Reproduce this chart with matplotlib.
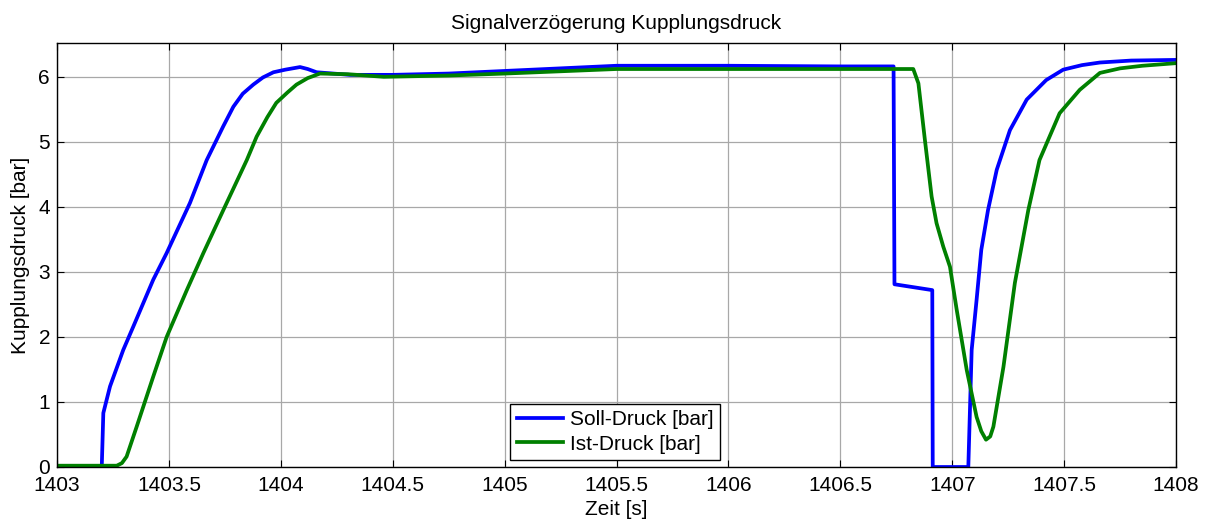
import matplotlib
matplotlib.use("Agg")
import matplotlib.pyplot as plt
import numpy as np

plt.rcParams['font.family'] = ['Liberation Sans', 'DejaVu Sans']

title = "Signalverzögerung Kupplungsdruck"
xlabel = "Zeit [s]"
ylabel = "Kupplungsdruck [bar]"
soll_label = "Soll-Druck [bar]"
ist_label = "Ist-Druck [bar]"

soll_t = [1403.0, 1403.20, 1403.207, 1403.237, 1403.296, 1403.341, 1403.43, 1403.49, 1403.594,
          1403.669, 1403.743, 1403.788, 1403.83, 1403.877, 1403.92, 1403.967, 1404.02, 1404.086,
          1404.12, 1404.16, 1404.31, 1404.5, 1404.75, 1405.0, 1405.25, 1405.5, 1406.0, 1406.5,
          1406.738, 1406.742, 1406.911, 1406.913, 1407.072,
          1407.087, 1407.109, 1407.13, 1407.16, 1407.199, 1407.258, 1407.333, 1407.42, 1407.496,
          1407.58, 1407.66, 1407.8, 1408.0]
soll_p = [0.0, 0.0, 0.83, 1.24, 1.8, 2.16, 2.88, 3.29, 4.06,
          4.72, 5.24, 5.54, 5.74, 5.88, 5.99, 6.07, 6.11, 6.15,
          6.12, 6.07, 6.03, 6.03, 6.05, 6.09, 6.13, 6.17, 6.17, 6.16,
          6.16, 2.81, 2.72, 0.0, 0.0,
          1.8, 2.57, 3.34, 3.95, 4.57, 5.18, 5.65, 5.95, 6.11,
          6.18, 6.22, 6.25, 6.26]

ist_t = [1403.0, 1403.267, 1403.29, 1403.311, 1403.356, 1403.43, 1403.49, 1403.58, 1403.654,
         1403.743, 1403.848, 1403.892, 1403.94, 1403.98, 1404.03, 1404.07, 1404.12, 1404.175,
         1404.3, 1404.46, 1404.75, 1405.0, 1405.5, 1406.0, 1406.5, 1406.826,
         1406.849, 1406.878, 1406.908, 1406.93, 1406.96, 1406.99, 1407.02, 1407.065, 1407.109,
         1407.13, 1407.151, 1407.17, 1407.184, 1407.229, 1407.28, 1407.34, 1407.39, 1407.48,
         1407.57, 1407.66, 1407.75, 1407.85, 1408.0]
ist_p = [0.02, 0.02, 0.06, 0.16, 0.62, 1.39, 2.0, 2.72, 3.29,
         3.95, 4.72, 5.08, 5.38, 5.6, 5.76, 5.88, 5.98, 6.05,
         6.04, 6.0, 6.02, 6.05, 6.12, 6.12, 6.12, 6.12,
         5.9, 5.03, 4.16, 3.75, 3.39, 3.08, 2.42, 1.49, 0.77,
         0.55, 0.42, 0.47, 0.62, 1.54, 2.83, 3.95, 4.72, 5.44,
         5.8, 6.06, 6.13, 6.17, 6.21]

xticks = [1403, 1403.5, 1404, 1404.5, 1405, 1405.5, 1406, 1406.5, 1407, 1407.5, 1408]
xticklabels = ["1403", "1403.5", "1404", "1404.5", "1405", "1405.5", "1406", "1406.5", "1407", "1407.5", "1408"]
yticks = [0, 1, 2, 3, 4, 5, 6]

fs = 15

fig = plt.figure(figsize=(12.09, 5.19), dpi=100)
ax = fig.add_axes([57/1209, 52/519, 1119/1209, 424/519])

ax.plot(soll_t, soll_p, color=(0, 0, 1), lw=2.7, label=soll_label)
ax.plot(ist_t, ist_p, color=(0, 0.5, 0), lw=2.7, label=ist_label)

ax.set_xlim(1403, 1408)
ax.set_ylim(0, 6.52)
ax.set_xticks(xticks)
ax.set_xticklabels(xticklabels)
ax.set_yticks(yticks)
ax.tick_params(direction='in', top=True, right=True, length=5, width=0.8,
               labelsize=fs)
ax.tick_params(axis='x', pad=6.5)
ax.tick_params(axis='y', pad=5)
ax.grid(True, color='#a8a8a8', lw=0.9)
ax.set_axisbelow(True)
for s in ax.spines.values():
    s.set_linewidth(1.0)
    s.set_color('black')

ax.set_title(title, fontsize=fs, pad=10)
ax.set_xlabel(xlabel, fontsize=fs)
ax.xaxis.set_label_coords(0.5, -0.077)
ax.set_ylabel(ylabel, fontsize=fs, labelpad=6)

leg = ax.legend(loc='lower left', bbox_to_anchor=(0.405, 0.016), borderaxespad=0,
                fontsize=fs, fancybox=False, framealpha=1, edgecolor='black',
                handlelength=2.2, handletextpad=0.35, borderpad=0.32, labelspacing=0.25)
leg.get_frame().set_linewidth(1.0)

fig.savefig("out.png", dpi=100)
